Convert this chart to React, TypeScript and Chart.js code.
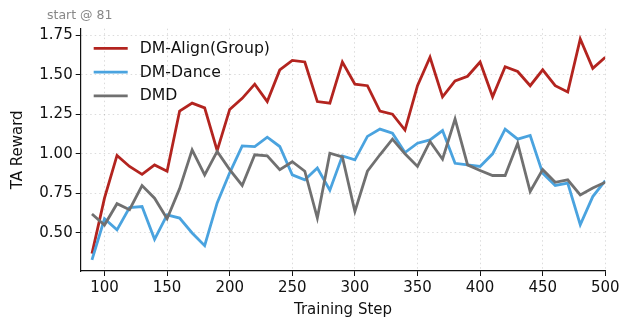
import React, { useEffect, useRef } from "react";
import { Chart, registerables } from "chart.js";

Chart.register(...registerables);

const steps = [90, 100, 110, 120, 130, 140, 150, 160, 170, 180, 190, 200, 210, 220, 230, 240, 250, 260, 270, 280, 290, 300, 310, 320, 330, 340, 350, 360, 370, 380, 390, 400, 410, 420, 430, 440, 450, 460, 470, 480, 490, 500];

const alignGroup = [0.37, 0.72, 0.99, 0.92, 0.87, 0.93, 0.89, 1.27, 1.32, 1.29, 1.02, 1.28, 1.35, 1.44, 1.33, 1.53, 1.59, 1.58, 1.33, 1.32, 1.58, 1.44, 1.43, 1.27, 1.25, 1.15, 1.43, 1.61, 1.36, 1.46, 1.49, 1.58, 1.36, 1.55, 1.52, 1.43, 1.53, 1.43, 1.39, 1.725, 1.54, 1.61];

const dmDance = [0.33, 0.59, 0.52, 0.66, 0.667, 0.46, 0.615, 0.594, 0.5, 0.42, 0.69, 0.88, 1.05, 1.046, 1.105, 1.046, 0.867, 0.836, 0.91, 0.77, 0.987, 0.962, 1.11, 1.156, 1.13, 1.008, 1.067, 1.088, 1.147, 0.94, 0.93, 0.92, 1.0, 1.156, 1.093, 1.116, 0.878, 0.8, 0.815, 0.552, 0.73, 0.83];

const dmd = [0.62, 0.55, 0.685, 0.647, 0.8, 0.72, 0.59, 0.78, 1.025, 0.867, 1.015, 0.9, 0.8, 0.994, 0.987, 0.9, 0.95, 0.89, 0.594, 1.004, 0.98, 0.636, 0.89, 0.994, 1.093, 1.0, 0.92, 1.078, 0.966, 1.22, 0.93, 0.895, 0.863, 0.863, 1.067, 0.762, 0.9, 0.82, 0.836, 0.74, 0.784, 0.82];

const seriesLabels = ["DM-Align(Group)", "DM-Dance", "DMD"];
const seriesColors = ["#b3241f", "#4aa3df", "#707070"];

const xTicks = [100, 150, 200, 250, 300, 350, 400, 450, 500];
const yTicks = [0.5, 0.75, 1.0, 1.25, 1.5, 1.75];
const xMin = 81;
const xMax = 500;
const yMin = 0.26;
const yMax = 1.79;
const noteText = "start @ 81";

const FONT = "'DejaVu Sans', 'Liberation Sans', sans-serif";

const legendPlugin = {
  id: "customLegend",
  afterDatasetsDraw(chart: any) {
    const { ctx, chartArea } = chart;
    ctx.save();
    chart.data.datasets.forEach((ds: any, i: number) => {
      const y = chartArea.top + 19.6 + i * 23.8;
      ctx.strokeStyle = ds.borderColor;
      ctx.lineWidth = 2.8;
      ctx.setLineDash([]);
      ctx.beginPath();
      ctx.moveTo(chartArea.left + 13, y);
      ctx.lineTo(chartArea.left + 47, y);
      ctx.stroke();
      ctx.fillStyle = "#111";
      ctx.font = `15.7px ${FONT}`;
      ctx.textBaseline = "middle";
      ctx.textAlign = "left";
      ctx.fillText(ds.label, chartArea.left + 59, y + 0.5);
    });
    ctx.restore();
  },
};

const notePlugin = {
  id: "note",
  afterDraw(chart: any) {
    const { ctx } = chart;
    ctx.save();
    ctx.fillStyle = "#888";
    ctx.font = `12.5px ${FONT}`;
    ctx.textBaseline = "middle";
    ctx.textAlign = "left";
    ctx.fillText(noteText, 47, 15.5);
    ctx.restore();
  },
};

export default function App() {
  const ref = useRef<HTMLCanvasElement | null>(null);

  useEffect(() => {
    if (!ref.current) return;
    const series = [alignGroup, dmDance, dmd];
    const chart = new Chart(ref.current, {
      type: "line",
      data: {
        datasets: series.map((vals, i) => ({
          label: seriesLabels[i],
          data: steps.map((s, j) => ({ x: s, y: vals[j] })),
          borderColor: seriesColors[i],
          backgroundColor: seriesColors[i],
          borderWidth: 2.8,
          pointRadius: 0,
          tension: 0,
          fill: false,
          order: 3 - i,
        })),
      },
      options: {
        responsive: false,
        animation: false,
        events: [],
        layout: { padding: { top: 28.7, right: 14.7, left: 0, bottom: 0 } },
        plugins: {
          legend: { display: false },
          tooltip: { enabled: false },
          title: { display: false },
        },
        scales: {
          x: {
            type: "linear",
            min: xMin,
            max: xMax,
            afterFit(scale: any) {
              scale.height = 49;
              scale.paddingLeft = 0;
              scale.paddingRight = 0;
            },
            afterBuildTicks(scale: any) {
              scale.ticks = xTicks.map((v) => ({ value: v }));
            },
            ticks: {
              color: "#111",
              font: { family: FONT, size: 15 },
              padding: 3,
              maxRotation: 0,
              callback: (v: any) => String(v),
            },
            grid: {
              color: "rgba(0,0,0,0.16)",
              lineWidth: 0.9,
              drawTicks: true,
              tickLength: 5,
              tickColor: "#111",
              tickWidth: 1,
              tickBorderDash: [],
            },
            border: { display: true, color: "#111", width: 1.2, dash: [1.5, 3] },
            title: {
              display: true,
              text: "Training Step",
              color: "#111",
              font: { family: FONT, size: 15 },
              padding: { top: 0, bottom: 1 },
            },
          },
          y: {
            type: "linear",
            min: yMin,
            max: yMax,
            afterFit(scale: any) {
              scale.width = 80.7;
              scale.paddingTop = 0;
              scale.paddingBottom = 0;
            },
            afterBuildTicks(scale: any) {
              scale.ticks = yTicks.map((v) => ({ value: v }));
            },
            ticks: {
              color: "#111",
              font: { family: FONT, size: 15 },
              padding: 3,
              callback: (v: any) => Number(v).toFixed(2),
            },
            grid: {
              color: "rgba(0,0,0,0.16)",
              lineWidth: 0.9,
              drawTicks: true,
              tickLength: 5,
              tickColor: "#111",
              tickWidth: 1,
              tickBorderDash: [],
            },
            border: { display: true, color: "#111", width: 1.2, dash: [1.5, 3] },
            title: {
              display: true,
              text: "TA Reward",
              color: "#111",
              font: { family: FONT, size: 15 },
              padding: { top: 9.5, bottom: 0 },
            },
          },
        },
      },
      plugins: [legendPlugin, notePlugin],
    } as any);
    return () => chart.destroy();
  }, []);

  return (
    <div style={{ position: "absolute", left: 0, top: 0, width: 620, height: 320, background: "#fff" }}>
      <canvas ref={ref} width={620} height={320} style={{ width: 620, height: 320, display: "block" }} />
    </div>
  );
}
